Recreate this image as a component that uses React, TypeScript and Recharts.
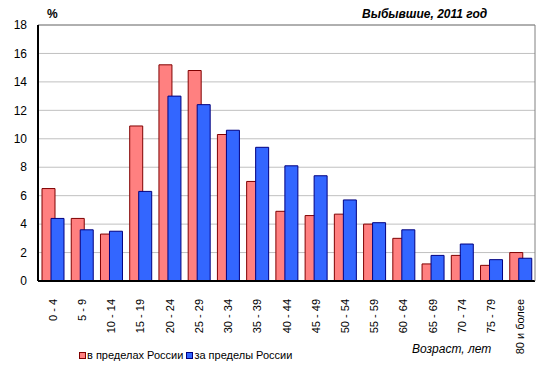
import React from 'react';
import {
  BarChart, Bar, XAxis, YAxis, CartesianGrid, ReferenceLine,
} from 'recharts';

const ageGroups = [
  '0 - 4', '5 - 9', '10 - 14', '15 - 19', '20 - 24', '25 - 29', '30 - 34', '35 - 39', '40 - 44',
  '45 - 49', '50 - 54', '55 - 59', '60 - 64', '65 - 69', '70 - 74', '75 - 79', '80 и более',
];
const withinRussia = [6.5, 4.4, 3.3, 10.9, 15.2, 14.8, 10.3, 7.0, 4.9, 4.6, 4.7, 4.0, 3.0, 1.2, 1.8, 1.1, 2.0];
const abroad = [4.4, 3.6, 3.5, 6.3, 13.0, 12.4, 10.6, 9.4, 8.1, 7.4, 5.7, 4.1, 3.6, 1.8, 2.6, 1.5, 1.6];
const yTicks = [0, 2, 4, 6, 8, 10, 12, 14, 16, 18];
const seriesNames = ['в пределах России', 'за пределы России'];

const FILL = ['#ff8080', '#3366ff'];
const EDGE = ['#800000', '#000080'];
const FONT = 'Arial, "Liberation Sans", sans-serif';

const data = ageGroups.map((age, i) => ({ age, within: withinRussia[i], abroad: abroad[i] }));

function AgeTick({ x, y, payload }: any) {
  return (
    <g transform={`translate(${x},${y})`}>
      <text x={-10} y={0} dy={4} transform="rotate(-90)" textAnchor="end"
        fontSize={11} fontFamily={FONT} fill="#000">
        {payload.value}
      </text>
    </g>
  );
}

export default function App() {
  return (
    <div style={{ position: 'absolute', left: 0, top: 0, width: 550, height: 380, background: '#fff', fontFamily: FONT }}>
      <BarChart width={550} height={380} data={data}
        margin={{ top: 25, right: 14, left: 0, bottom: 0 }}
        barCategoryGap={4} barGap={-4}>
        <CartesianGrid yAxisId="left" vertical={false} stroke="#c0c0c0" />
        <XAxis dataKey="age" interval={0} height={99} tickLine={false}
          axisLine={{ stroke: '#000', strokeWidth: 2 }} tick={<AgeTick />} />
        <YAxis yAxisId="left" domain={[0, 18]} ticks={yTicks} width={38} tickLine={false} tickMargin={5}
          axisLine={{ stroke: '#000', strokeWidth: 2 }}
          tick={{ fontSize: 12, fill: '#000', fontFamily: FONT }} />
        <YAxis yAxisId="right" orientation="right" domain={[0, 18]} width={1} tick={false} tickLine={false}
          axisLine={{ stroke: '#808080' }} />
        <ReferenceLine yAxisId="left" y={18} stroke="#808080" />
        <Bar yAxisId="left" dataKey="within" name={seriesNames[0]} fill={FILL[0]} stroke={EDGE[0]} isAnimationActive={false} />
        <Bar yAxisId="left" dataKey="abroad" name={seriesNames[1]} fill={FILL[1]} stroke={EDGE[1]} isAnimationActive={false} />
      </BarChart>

      <div style={{ position: 'absolute', left: 47, top: 7, fontSize: 12, fontWeight: 'bold' }}>%</div>
      <div style={{ position: 'absolute', left: 362, top: 7, fontSize: 12, fontWeight: 'bold', fontStyle: 'italic' }}>
        Выбывшие, 2011 год
      </div>
      <div style={{ position: 'absolute', left: 412, top: 342, fontSize: 12, fontStyle: 'italic' }}>
        Возраст, лет
      </div>
      <div style={{ position: 'absolute', left: 79, top: 349, display: 'flex', alignItems: 'center', fontSize: 11 }}>
        {seriesNames.map((name, i) => (
          <span key={name} style={{ display: 'flex', alignItems: 'center', marginRight: 3 }}>
            <span style={{ width: 5, height: 5, background: FILL[i], border: `1px solid ${EDGE[i]}`, marginRight: 1 }} />
            {name}
          </span>
        ))}
      </div>
    </div>
  );
}
